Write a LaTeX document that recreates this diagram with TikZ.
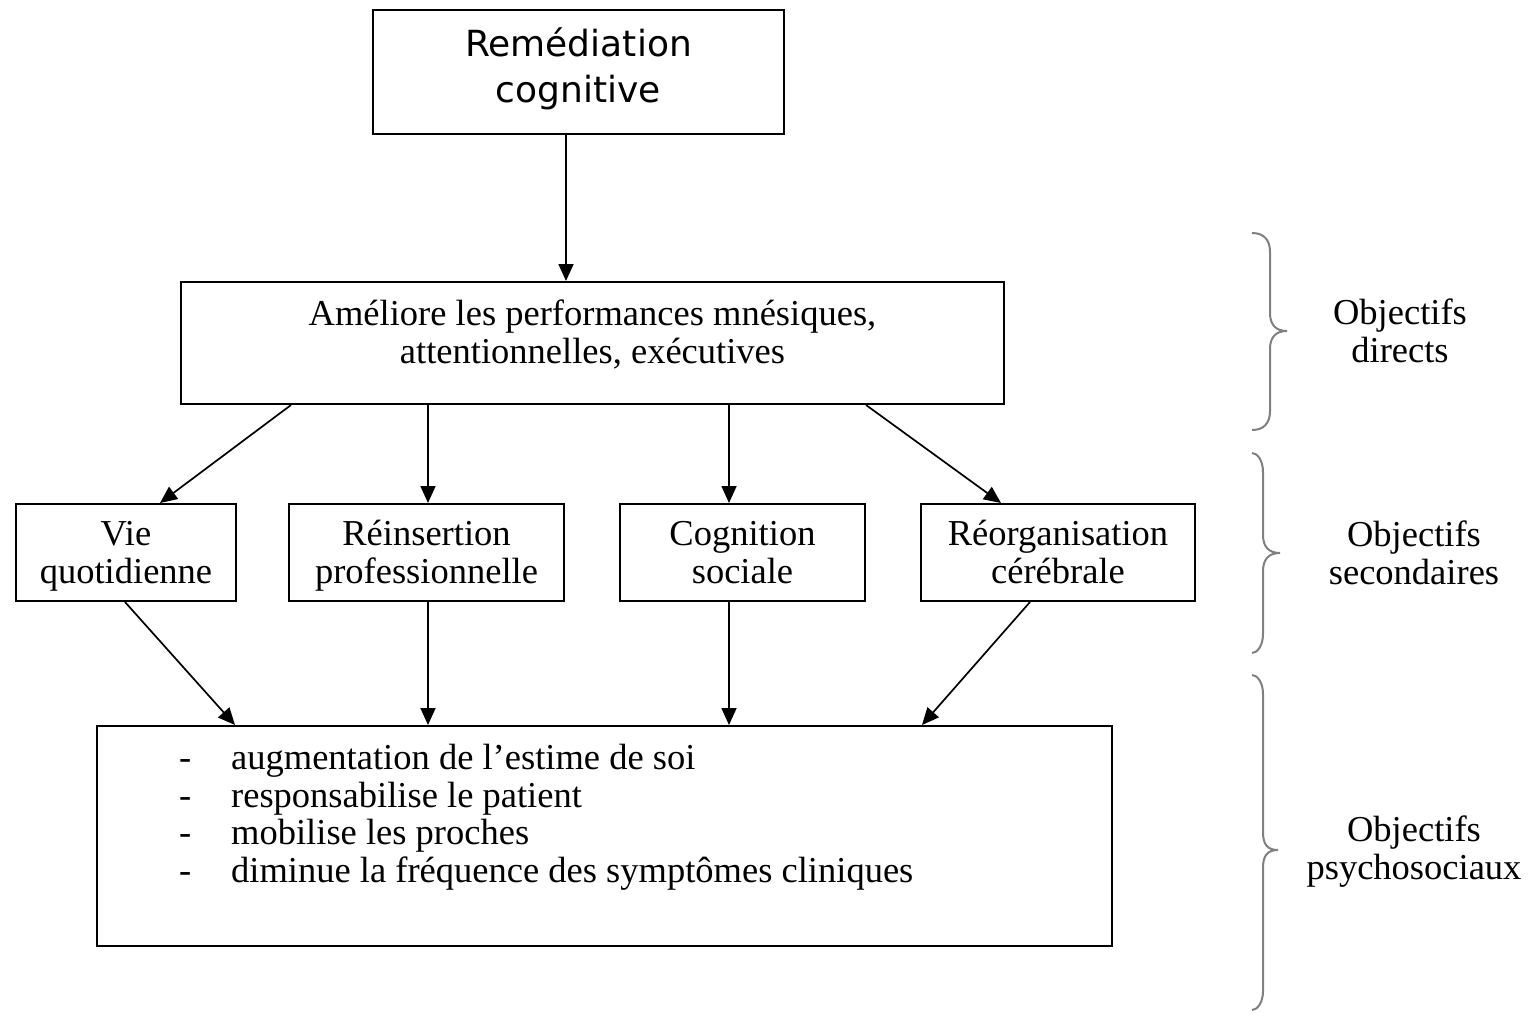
\documentclass[tikz,border=0pt]{standalone}
\usepackage{fontspec}
\setmainfont{Liberation Serif}
\newfontfamily\topfont{DejaVu Sans}
\usetikzlibrary{arrows.meta}
\newcommand\ustrut{\rule{0pt}{34.6pt}}
\newcommand\mybrc[6]{\draw[brc] (#1,#4) .. controls ({#2-6},#4) and (#2,{#4+7}) .. (#2,{#4+19}) -- (#2,{#5-18}) .. controls (#2,{#5-6}) and ({#3-11},#5) .. (#3,#5) .. controls ({#3-11},#5) and (#2,{#5+6}) .. (#2,{#5+18}) -- (#2,{#6-19}) .. controls (#2,{#6-7}) and ({#2-6},#6) .. (#1,#6);}
\begin{document}
\begin{tikzpicture}[x=1pt,y=-1pt,
  box/.style={draw,line width=2pt,inner sep=0pt,align=center,font=\fontsize{36.5}{38}\selectfont},
  txt/.style={inner sep=0pt,align=center,font=\fontsize{36.5}{38}\selectfont},
  item/.style={inner sep=0pt,anchor=base west,font=\fontsize{36.5}{38}\selectfont},
  arr/.style={line width=1.7pt,-{Triangle[length=17pt,width=15pt]}},
  brc/.style={draw=gray,line width=2pt}
]
\useasboundingbox[fill=white] (0,0) rectangle (1534,1021);

\node[box,minimum width=411pt,minimum height=124pt] (top) at (578.5,72) {};
\node[txt,font=\topfont\fontsize{36}{46}\selectfont] (toptxt) at ([yshift=3pt]top.center) {Remédiation\\cognitive};
\node[box,minimum width=823pt,minimum height=122pt] (amel) at (592.5,343) {};
\node[txt] (ameltxt) at ([yshift=9pt]amel.center) {Améliore les performances mnésiques,\\attentionnelles, exécutives};
\node[box,minimum width=220pt,minimum height=97pt] (vie) at (126,552.5) {Vie\ustrut\\quotidienne\strut};
\node[box,minimum width=275pt,minimum height=97pt] (rein) at (426.5,552.5) {Réinsertion\ustrut\\professionnelle\strut};
\node[box,minimum width=245pt,minimum height=97pt] (cogn) at (742.5,552.5) {Cognition\ustrut\\sociale\strut};
\node[box,minimum width=274pt,minimum height=97pt] (reorg) at (1058,552.5) {Réorganisation\ustrut\\cérébrale\strut};
\node[box,minimum width=1015pt,minimum height=220pt] (bot) at (604.5,836) {};

\node[item] (l1) at ([shift={(83,44)}]bot.north west) {\makebox[52pt][l]{-}augmentation de l’estime de soi};
\node[item] (l2) at ([shift={(83,82)}]bot.north west) {\makebox[52pt][l]{-}responsabilise le patient};
\node[item] (l3) at ([shift={(83,119.5)}]bot.north west) {\makebox[52pt][l]{-}mobilise les proches};
\node[item] (l4) at ([shift={(83,157)}]bot.north west) {\makebox[52pt][l]{-}diminue la fréquence des symptômes cliniques};

\draw[arr] (top.south -| 566,0) -- (amel.north -| 566,0);
\draw[arr] (amel.south -| 291,0) -- (vie.north -| 160,0);
\draw[arr] (amel.south -| 428,0) -- (rein.north -| 428,0);
\draw[arr] (amel.south -| 729,0) -- (cogn.north -| 729,0);
\draw[arr] (amel.south -| 866,0) -- (reorg.north -| 1001,0);
\draw[arr] (vie.south -| 125,0) -- (bot.north -| 235,0);
\draw[arr] (rein.south -| 428,0) -- (bot.north -| 428,0);
\draw[arr] (cogn.south -| 729,0) -- (bot.north -| 729,0);
\draw[arr] (reorg.south -| 1030,0) -- (bot.north -| 922,0);

\mybrc{1252}{1270}{1287}{233}{331}{430}
\mybrc{1252}{1263}{1280}{453}{553}{653}
\mybrc{1252}{1263}{1278}{675}{850}{1010}

\node[txt] (o1) at (1400,331) {Objectifs\\directs};
\node[txt] (o2) at (1414,553) {Objectifs\\secondaires};
\node[txt] (o3) at (1414,852) {Objectifs\\psychosociaux};
\end{tikzpicture}
\end{document}
